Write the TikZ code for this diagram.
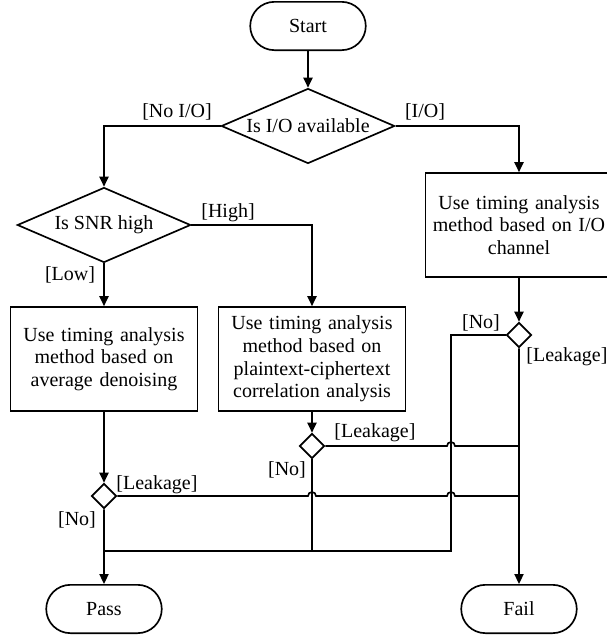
\documentclass[tikz,border=0pt]{standalone}
\usepackage{fontspec}
\setmainfont{Liberation Serif}
\usetikzlibrary{positioning,calc,shapes.geometric,shapes.misc,arrows.meta}
\tikzset{
terminal/.style={rounded rectangle, draw, line width=1pt, minimum width=76pt, minimum height=29pt},
decision/.style={diamond, draw, line width=1pt, aspect=2.3, inner sep=0pt, minimum width=104pt, minimum height=45pt},
check/.style={diamond, draw, line width=1pt, inner sep=0pt, minimum size=15pt},
process/.style={rectangle, draw, line width=1pt, minimum width=112.2pt, minimum height=62.4pt, inner xsep=2pt, text width=108pt, align=center},
line/.style={line width=1pt},
arrowline/.style={line width=1pt, -{Triangle[length=6pt,width=5.5pt]}},
lbl/.style={inner sep=1pt},
hop/.style={line width=1pt}
}
\newcommand{\hopr}{2.4pt}

\begin{document}
\begin{tikzpicture}[x=0.6pt, y=-0.6pt, font=\fontsize{12}{13.6}\selectfont]
  \useasboundingbox (0,0) rectangle (606,637);
  % main nodes
  \node[terminal] (start) at (308,26) {Start};
  \node[decision] (ioq) at (308,126) {Is I/O available};
  \node[decision] (snrq) at (104,225) {Is SNR high};
  \node[process] (avg) at (104,359) {Use timing analysis\\method based on\\average denoising};
  \node[process] (corr) at (312,359) {Use timing analysis\\method based on\\plaintext-ciphertext\\correlation analysis};
  \node[process] (chan) at (519,225) {Use timing analysis\\method based on I/O\\channel};
  \node[check] (leak1) at (104,496) {};
  \node[check] (leak2) at (312,446) {};
  \node[check] (leak3) at (519,335) {};
  \node[terminal] (pass) at (104,609) {Pass};
  \node[terminal] (fail) at (519,609) {Fail};
  \coordinate (nojoin) at (451,551);
  \coordinate (passjoin) at (104,551);

  % branch labels
  \node[lbl] (noio) at (177,112) {[No I/O]};
  \node[lbl] (io) at (425,112) {[I/O]};
  \node[lbl] (high) at (228,213) {[High]};
  \node[lbl] (low) at (70,275) {[Low]};
  \node[lbl] (no3) at (481,323) {[No]};
  \node[lbl] (yes3) at (567,357) {[Leakage]};
  \node[lbl] (yes2) at (375,433) {[Leakage]};
  \node[lbl] (no2) at (287,470) {[No]};
  \node[lbl] (yes1) at (157,485) {[Leakage]};
  \node[lbl] (no1) at (77,520) {[No]};

  % connectors
  \draw[arrowline] (start) -- (ioq);
  \draw[arrowline] (ioq.west) -| (snrq.north);
  \draw[arrowline] (ioq.east) -| (chan.north);
  \draw[arrowline] (snrq.east) -| (corr.north);
  \draw[arrowline] (snrq) -- (avg);
  \draw[arrowline] (avg) -- (leak1);
  \draw[arrowline] (corr) -- (leak2);
  \draw[arrowline] (chan) -- (leak3);
  \draw[arrowline] (leak1) -- (pass);
  \draw[arrowline] (leak3) -- (fail);
  \draw[line] (leak3.west) -| (nojoin) -- (passjoin);
  \draw[line] (leak2.south) -- (leak2 |- nojoin);
  % leakage lines hop over the no lines
  \draw[hop] (leak2.east) -- ([xshift=-\hopr]leak2.east -| nojoin)
    arc[start angle=180, end angle=0, radius=\hopr] -- (leak2.east -| fail);
  \draw[hop] (leak1.east) -- ([xshift=-\hopr]leak1.east -| leak2)
    arc[start angle=180, end angle=0, radius=\hopr]
    -- ([xshift=-\hopr]leak1.east -| nojoin)
    arc[start angle=180, end angle=0, radius=\hopr] -- (leak1.east -| fail);
\end{tikzpicture}
\end{document}
